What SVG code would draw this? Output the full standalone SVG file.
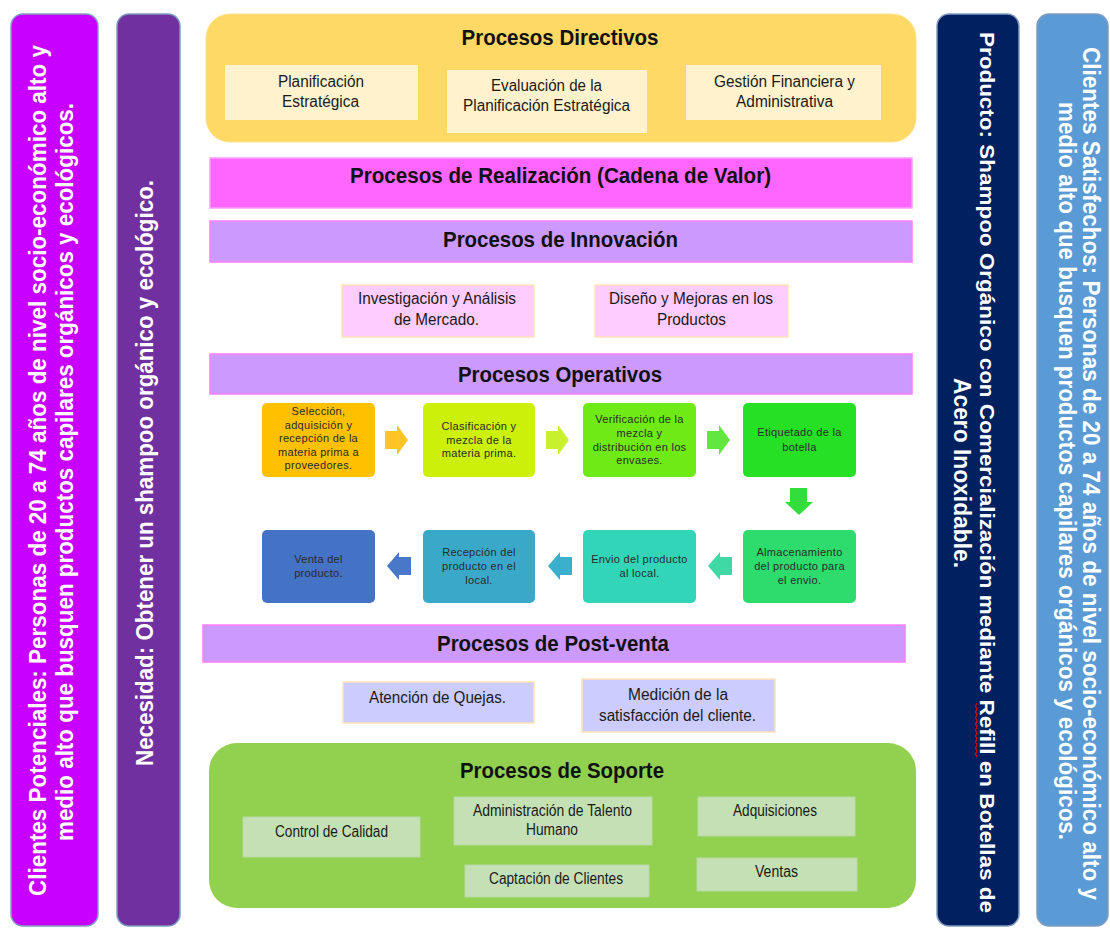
<svg xmlns="http://www.w3.org/2000/svg" width="1110" height="928" viewBox="0 0 1110 928">
<style>
.col{stroke:#7F9CC0;stroke-width:1.5}
.ct{font-family:"Liberation Sans Narrow","Liberation Sans",Arial,sans-serif;font-size:23px;font-weight:bold;fill:#ffffff;text-anchor:middle}
.ttl{font-family:"Liberation Sans Narrow","Liberation Sans",Arial,sans-serif;font-size:22px;font-weight:bold;fill:#111111;text-anchor:middle}
.st{font-family:"Liberation Sans Narrow","Liberation Sans",Arial,sans-serif;font-size:16px;fill:#1a1a1a;text-anchor:middle}
.ot{font-family:"Liberation Sans",Arial,sans-serif;font-size:11px;letter-spacing:0.3px;fill:#2a2a2a;text-anchor:middle}
.band{fill:#CC99FF;stroke:#FF7DFF;stroke-width:1.5}
.dsub{fill:#FFF2CC}
.isub{fill:#FFCCFF;stroke:#FFE2B8;stroke-width:1.5}
.psub{fill:#CCCCFF;stroke:#FFE2B8;stroke-width:1.5}
.ssub{fill:#C5E0B4;stroke:#B9D8A6;stroke-width:1}
</style>

<g id="clientes-potenciales">
<rect class="col" x="11" y="14" width="87" height="912" rx="12" fill="#C800FF"/>
<text class="ct" transform="translate(46,470.5) rotate(-90)" textLength="851" lengthAdjust="spacingAndGlyphs">Clientes Potenciales: Personas de 20 a 74 años de nivel socio-económico alto y</text>
<text class="ct" transform="translate(73,472) rotate(-90)" textLength="738" lengthAdjust="spacingAndGlyphs">medio alto que busquen productos capilares orgánicos y ecológicos.</text>
</g>

<g id="necesidad">
<rect class="col" x="117" y="14" width="63" height="912" rx="12" fill="#7030A0"/>
<text class="ct" transform="translate(153,473) rotate(-90)" textLength="586" lengthAdjust="spacingAndGlyphs">Necesidad: Obtener un shampoo orgánico y ecológico.</text>
</g>

<g id="producto">
<rect class="col" x="937" y="14" width="82" height="912" rx="12" fill="#002060"/>
<text class="ct" style="font-size:21px" transform="translate(980,472.5) rotate(90)" textLength="881" lengthAdjust="spacingAndGlyphs">Producto: Shampoo Orgánico con Comercialización mediante Refill en Botellas de</text>
<text class="ct" transform="translate(954,473) rotate(90)" textLength="190" lengthAdjust="spacingAndGlyphs">Acero Inoxidable.</text>
<path d="M977,703 L975.5,706 L977,709 L975.5,712 L977,715 L975.5,718 L977,721 L975.5,724 L977,727 L975.5,730 L977,733 L975.5,736 L977,739 L975.5,742 L977,745 L975.5,748 L977,751 L975.5,754 L977,757" fill="none" stroke="#E00000" stroke-width="1.2"/>
</g>

<g id="clientes-satisfechos">
<rect class="col" x="1037" y="14" width="71" height="912" rx="12" fill="#5B9BD5"/>
<text class="ct" transform="translate(1083,473.5) rotate(90)" textLength="853" lengthAdjust="spacingAndGlyphs">Clientes Satisfechos: Personas de 20 a 74 años de nivel socio-económico alto y</text>
<text class="ct" transform="translate(1059,471) rotate(90)" textLength="738" lengthAdjust="spacingAndGlyphs">medio alto que busquen productos capilares orgánicos y ecológicos.</text>
</g>

<g id="procesos-directivos">
<rect x="206" y="14" width="710" height="128" rx="24" fill="#FFD966" stroke="#FFE08A" stroke-width="1"/>
<text class="ttl" x="560" y="45" textLength="197" lengthAdjust="spacingAndGlyphs">Procesos Directivos</text>
<rect class="dsub" x="225" y="65" width="193" height="55"/>
<text class="st" x="321" y="87" textLength="86" lengthAdjust="spacingAndGlyphs">Planificación</text>
<text class="st" x="320.5" y="107" textLength="77" lengthAdjust="spacingAndGlyphs">Estratégica</text>
<rect class="dsub" x="447" y="70" width="200" height="63"/>
<text class="st" x="546.5" y="91" textLength="111" lengthAdjust="spacingAndGlyphs">Evaluación de la</text>
<text class="st" x="546.5" y="111" textLength="167" lengthAdjust="spacingAndGlyphs">Planificación Estratégica</text>
<rect class="dsub" x="686" y="65" width="195" height="55"/>
<text class="st" x="784.5" y="87" textLength="141" lengthAdjust="spacingAndGlyphs">Gestión Financiera y</text>
<text class="st" x="784.5" y="107" textLength="97" lengthAdjust="spacingAndGlyphs">Administrativa</text>
</g>

<g id="procesos-realizacion">
<rect x="210" y="158" width="702" height="50" fill="#FF66FF" stroke="#FF9CFF" stroke-width="1.5"/>
<text class="ttl" x="560.5" y="183" textLength="421" lengthAdjust="spacingAndGlyphs">Procesos de Realización (Cadena de Valor)</text>
</g>

<g id="procesos-innovacion">
<rect class="band" x="210" y="221" width="702" height="41"/>
<text class="ttl" x="560.5" y="247" textLength="235" lengthAdjust="spacingAndGlyphs">Procesos de Innovación</text>
<rect class="isub" x="342" y="285" width="192" height="52"/>
<text class="st" x="437" y="304" textLength="158" lengthAdjust="spacingAndGlyphs">Investigación y Análisis</text>
<text class="st" x="436.5" y="325" textLength="85" lengthAdjust="spacingAndGlyphs">de Mercado.</text>
<rect class="isub" x="595" y="285" width="193" height="52"/>
<text class="st" x="691" y="304" textLength="164" lengthAdjust="spacingAndGlyphs">Diseño y Mejoras en los</text>
<text class="st" x="691.5" y="325" textLength="69" lengthAdjust="spacingAndGlyphs">Productos</text>
</g>

<g id="procesos-operativos">
<rect class="band" x="210" y="354" width="702" height="40"/>
<text class="ttl" x="560" y="382" textLength="204" lengthAdjust="spacingAndGlyphs">Procesos Operativos</text>
</g>

<g id="op1">
<rect x="262" y="403" width="113" height="74" rx="5" fill="#FFC000"/>
<text class="ot" x="318.5" y="415">Selección,</text>
<text class="ot" x="318.5" y="428.5">adquisición  y</text>
<text class="ot" x="318.5" y="442">recepción de la</text>
<text class="ot" x="318.5" y="455.5">materia prima a</text>
<text class="ot" x="318.5" y="469">proveedores.</text>
</g>
<g id="op2">
<rect x="423" y="403" width="112" height="74" rx="5" fill="#CCF00A"/>
<text class="ot" x="479" y="430">Clasificación y</text>
<text class="ot" x="479" y="443.5">mezcla de la</text>
<text class="ot" x="479" y="457">materia prima.</text>
</g>
<g id="op3">
<rect x="583" y="403" width="113" height="74" rx="5" fill="#70EA16"/>
<text class="ot" x="639.5" y="423">Verificación de la</text>
<text class="ot" x="639.5" y="437">mezcla y</text>
<text class="ot" x="639.5" y="451">distribución en los</text>
<text class="ot" x="639.5" y="464">envases.</text>
</g>
<g id="op4">
<rect x="743" y="403" width="113" height="74" rx="5" fill="#25E025"/>
<text class="ot" x="799.5" y="436">Etiquetado de la</text>
<text class="ot" x="799.5" y="451">botella</text>
</g>
<g id="op5">
<rect x="743" y="530" width="113" height="73" rx="5" fill="#2EDC6E"/>
<text class="ot" x="799.5" y="556">Almacenamiento</text>
<text class="ot" x="799.5" y="570">del producto para</text>
<text class="ot" x="799.5" y="584">el envio.</text>
</g>
<g id="op6">
<rect x="583" y="530" width="113" height="73" rx="5" fill="#33D5B8"/>
<text class="ot" x="639.5" y="563">Envio del producto</text>
<text class="ot" x="639.5" y="577">al local.</text>
</g>
<g id="op7">
<rect x="423" y="530" width="112" height="73" rx="5" fill="#3AA9C9"/>
<text class="ot" x="479" y="556">Recepción del</text>
<text class="ot" x="479" y="570">producto en el</text>
<text class="ot" x="479" y="584">local.</text>
</g>
<g id="op8">
<rect x="262" y="530" width="113" height="73" rx="5" fill="#4472C4"/>
<text class="ot" x="318.5" y="563">Venta del</text>
<text class="ot" x="318.5" y="577">producto.</text>
</g>

<g id="connectors">
<path d="M385,431 H397 V425 L408,440 L397,455 V449 H385 Z" fill="#FFC425"/>
<path d="M546,431 H558 V425 L569,440 L558,455 V449 H546 Z" fill="#C9F02E"/>
<path d="M707,431 H719 V425 L730,440 L719,455 V449 H707 Z" fill="#62E640"/>
<path d="M790,488 H807 V502 H813 L799,515 L785,502 H790 Z" fill="#33DD3C"/>
<path d="M732,557 H720 V552 L708,566 L720,580 V575 H732 Z" fill="#40D9A6"/>
<path d="M572,557 H560 V552 L548,566 L560,580 V575 H572 Z" fill="#3AB0CC"/>
<path d="M411,557 H399 V552 L387,566 L399,580 V575 H411 Z" fill="#4A78C8"/>
</g>

<g id="procesos-postventa">
<rect class="band" x="203" y="625" width="702" height="37"/>
<text class="ttl" x="553" y="651" textLength="232" lengthAdjust="spacingAndGlyphs">Procesos de Post-venta</text>
<rect class="psub" x="343" y="682" width="191" height="41"/>
<text class="st" x="437.5" y="703" textLength="137" lengthAdjust="spacingAndGlyphs">Atención de Quejas.</text>
<rect class="psub" x="582" y="679" width="193" height="53"/>
<text class="st" x="678" y="700" textLength="100" lengthAdjust="spacingAndGlyphs">Medición de la</text>
<text class="st" x="677.5" y="721" textLength="157" lengthAdjust="spacingAndGlyphs">satisfacción del cliente.</text>
</g>

<g id="procesos-soporte">
<rect x="209" y="743" width="707" height="165" rx="28" fill="#92D050"/>
<text class="ttl" x="562" y="778" textLength="204" lengthAdjust="spacingAndGlyphs">Procesos de Soporte</text>
<rect class="ssub" x="243" y="817" width="177" height="40"/>
<text class="st" x="331.5" y="837" textLength="113" lengthAdjust="spacingAndGlyphs">Control de Calidad</text>
<rect class="ssub" x="454" y="797" width="198" height="48"/>
<text class="st" x="552.5" y="816" textLength="159" lengthAdjust="spacingAndGlyphs">Administración de Talento</text>
<text class="st" x="552" y="835" textLength="52" lengthAdjust="spacingAndGlyphs">Humano</text>
<rect class="ssub" x="698" y="797" width="157" height="39"/>
<text class="st" x="775" y="816" textLength="84" lengthAdjust="spacingAndGlyphs">Adquisiciones</text>
<rect class="ssub" x="465" y="865" width="184" height="32"/>
<text class="st" x="556" y="884" textLength="134" lengthAdjust="spacingAndGlyphs">Captación de Clientes</text>
<rect class="ssub" x="697" y="858" width="160" height="33"/>
<text class="st" x="776.5" y="877" textLength="43" lengthAdjust="spacingAndGlyphs">Ventas</text>
</g>
</svg>
